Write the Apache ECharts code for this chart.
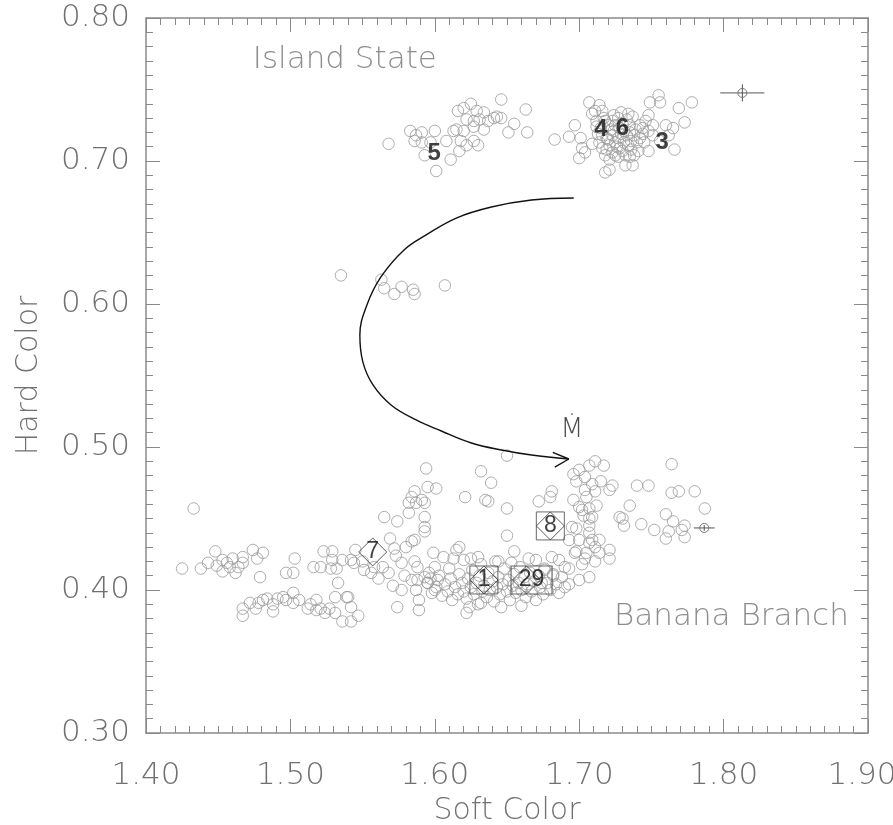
<!DOCTYPE html>
<html>
<head>
<meta charset="utf-8">
<script src="https://cdn.jsdelivr.net/npm/echarts@6/dist/echarts.min.js"></script>
<style>html,body{margin:0;padding:0;background:#fff;overflow:hidden}#c{width:893px;height:825px}</style>
</head>
<body>
<div id="c"></div>
<script>
// ---------------- DATA ----------------
const xTicks = [1.40, 1.50, 1.60, 1.70, 1.80, 1.90];
const yTicks = [0.30, 0.40, 0.50, 0.60, 0.70, 0.80];

const islandLeft = [[1.568,0.712],[1.583,0.721],[1.587,0.718],[1.591,0.720],[1.591,0.713],[1.600,0.721],[1.597,0.713],[1.593,0.704],[1.601,0.693],[1.611,0.701],[1.608,0.714],[1.613,0.721],[1.615,0.722],[1.618,0.714],[1.617,0.707],[1.622,0.711],[1.627,0.714],[1.630,0.711],[1.620,0.721],[1.627,0.724],[1.634,0.722],[1.616,0.735],[1.620,0.737],[1.625,0.740],[1.629,0.735],[1.622,0.729],[1.627,0.728],[1.631,0.729],[1.634,0.734],[1.637,0.728],[1.641,0.730],[1.643,0.731],[1.646,0.730],[1.646,0.743],[1.655,0.726],[1.651,0.720],[1.663,0.736],[1.664,0.720],[1.586,0.714]];

const islandRight = [[1.683,0.715],[1.693,0.717],[1.697,0.725],[1.701,0.716],[1.702,0.709],[1.700,0.702],[1.704,0.706],[1.707,0.741],[1.709,0.733],[1.714,0.739],[1.716,0.735],[1.712,0.728],[1.715,0.723],[1.716,0.709],[1.718,0.704],[1.721,0.701],[1.721,0.694],[1.718,0.692],[1.723,0.718],[1.725,0.725],[1.727,0.730],[1.729,0.734],[1.733,0.729],[1.735,0.725],[1.737,0.731],[1.725,0.713],[1.728,0.709],[1.732,0.704],[1.734,0.711],[1.735,0.703],[1.738,0.704],[1.742,0.716],[1.744,0.723],[1.746,0.728],[1.748,0.732],[1.749,0.741],[1.755,0.746],[1.756,0.741],[1.748,0.707],[1.748,0.721],[1.751,0.718],[1.760,0.725],[1.765,0.723],[1.769,0.737],[1.778,0.741],[1.773,0.727],[1.766,0.708],[1.762,0.718],[1.723,0.728],[1.731,0.721],[1.738,0.718],[1.725,0.704],[1.721,0.711],[1.732,0.697],[1.737,0.697],[1.741,0.707],[1.751,0.725],[1.756,0.714],[1.711,0.735],[1.718,0.728],[1.713,0.719],[1.727,0.716],[1.740,0.713],[1.730,0.726],[1.722,0.722],[1.744,0.719],[1.709,0.712],[1.719,0.716],
  [1.712,0.724],[1.716,0.718],[1.720,0.725],[1.724,0.721],[1.726,0.710],[1.729,0.719],[1.731,0.713],[1.733,0.718],[1.736,0.714],[1.739,0.722],[1.719,0.708],[1.723,0.706],[1.727,0.703],[1.730,0.707],[1.714,0.713],[1.735,0.720],[1.742,0.725],[1.745,0.713],[1.717,0.730],[1.724,0.732],[1.734,0.733],[1.728,0.723],[1.720,0.715],[1.736,0.708]];

const middlePoints = [[1.535,0.620],[1.563,0.617],[1.565,0.611],[1.572,0.607],[1.577,0.612],[1.585,0.610],[1.586,0.607],[1.607,0.613]];

const bananaLeft = [[1.433,0.457],[1.425,0.415],[1.438,0.415],[1.443,0.419],[1.448,0.427],[1.449,0.417],[1.453,0.421],[1.453,0.413],[1.456,0.419],[1.458,0.416],[1.460,0.422],[1.462,0.412],[1.464,0.416],[1.467,0.419],[1.467,0.423],[1.474,0.428],[1.477,0.422],[1.481,0.426],[1.479,0.409],[1.497,0.412],[1.502,0.412],[1.503,0.422],[1.516,0.416],[1.521,0.416],[1.523,0.427],[1.529,0.427],[1.529,0.421],[1.528,0.415],[1.532,0.415],[1.536,0.421],[1.533,0.405],[1.540,0.395],[1.542,0.421],[1.545,0.428],[1.544,0.419],[1.550,0.420],[1.551,0.414],[1.556,0.412],[1.558,0.416],[1.561,0.408],[1.564,0.416],[1.568,0.412]];

const bananaLow = [[1.467,0.387],[1.467,0.382],[1.472,0.391],[1.476,0.387],[1.478,0.391],[1.481,0.393],[1.484,0.394],[1.488,0.390],[1.488,0.385],[1.491,0.394],[1.495,0.395],[1.497,0.393],[1.502,0.398],[1.502,0.391],[1.506,0.393],[1.512,0.387],[1.514,0.390],[1.518,0.393],[1.518,0.386],[1.521,0.387],[1.524,0.384],[1.527,0.387],[1.531,0.395],[1.531,0.384],[1.536,0.378],[1.539,0.395],[1.542,0.388],[1.542,0.378],[1.547,0.382]];

const bananaMid = [[1.565,0.451],[1.574,0.448],[1.569,0.436],[1.572,0.429],[1.573,0.424],[1.571,0.403],[1.574,0.388],[1.577,0.400],[1.579,0.410],[1.580,0.430],[1.584,0.434],[1.586,0.435],[1.582,0.454],[1.582,0.461],[1.584,0.465],[1.587,0.461],[1.591,0.463],[1.593,0.451],[1.593,0.444],[1.593,0.441],[1.586,0.469],[1.599,0.426],[1.577,0.419],[1.586,0.420],[1.588,0.416],[1.584,0.407],[1.588,0.407],[1.587,0.400],[1.589,0.393],[1.589,0.386],[1.593,0.409],[1.595,0.405],[1.597,0.408],[1.600,0.400],[1.602,0.407],[1.594,0.485],[1.632,0.483],[1.650,0.494],[1.639,0.475],[1.621,0.465],[1.635,0.463],[1.637,0.462],[1.650,0.457],[1.650,0.438],[1.672,0.462],[1.680,0.465],[1.681,0.469],[1.601,0.471],[1.595,0.472],[1.593,0.461],[1.617,0.430],[1.615,0.428],[1.606,0.423],[1.613,0.422],[1.620,0.421],[1.625,0.422],[1.630,0.423],[1.644,0.420],[1.655,0.427],[1.665,0.422],[1.670,0.421],[1.681,0.423],[1.686,0.421],[1.690,0.416],[1.693,0.404],[1.682,0.410],[1.676,0.414],[1.674,0.405]];

const bananaDense = [[1.595,0.405],[1.598,0.398],[1.601,0.402],[1.603,0.410],[1.605,0.396],[1.607,0.404],[1.609,0.399],[1.611,0.408],[1.612,0.393],[1.614,0.402],[1.616,0.397],[1.617,0.411],[1.619,0.405],[1.620,0.399],[1.622,0.394],[1.623,0.408],[1.625,0.402],[1.626,0.414],[1.627,0.397],[1.629,0.405],[1.630,0.390],[1.631,0.410],[1.633,0.399],[1.634,0.403],[1.636,0.395],[1.637,0.412],[1.638,0.400],[1.640,0.406],[1.641,0.392],[1.643,0.402],[1.644,0.409],[1.645,0.397],[1.647,0.404],[1.648,0.415],[1.650,0.399],[1.651,0.407],[1.652,0.393],[1.654,0.403],[1.655,0.411],[1.656,0.398],[1.658,0.405],[1.659,0.416],[1.660,0.400],[1.662,0.409],[1.663,0.395],[1.664,0.404],[1.666,0.412],[1.667,0.399],[1.669,0.406],[1.670,0.393],[1.672,0.410],[1.673,0.402],[1.675,0.397],[1.676,0.415],[1.678,0.405],[1.680,0.400],[1.682,0.411],[1.684,0.404],[1.686,0.398],[1.688,0.409],[1.690,0.402],[1.624,0.388],[1.646,0.388],[1.660,0.389],[1.610,0.415],[1.632,0.418],[1.642,0.420],[1.653,0.419],[1.600,0.416],[1.596,0.412],[1.632,0.391],[1.622,0.384]];

const bananaRight = [[1.696,0.481],[1.700,0.484],[1.707,0.487],[1.711,0.490],[1.717,0.487],[1.698,0.476],[1.704,0.479],[1.709,0.474],[1.715,0.476],[1.704,0.470],[1.711,0.469],[1.721,0.470],[1.723,0.473],[1.700,0.458],[1.707,0.457],[1.703,0.452],[1.707,0.450],[1.698,0.443],[1.707,0.445],[1.707,0.440],[1.709,0.435],[1.700,0.435],[1.693,0.435],[1.714,0.435],[1.698,0.427],[1.705,0.426],[1.711,0.430],[1.721,0.428],[1.721,0.422],[1.702,0.418],[1.693,0.415],[1.700,0.407],[1.707,0.409],[1.730,0.450],[1.740,0.473],[1.748,0.473],[1.764,0.488],[1.764,0.468],[1.769,0.469],[1.780,0.469],[1.787,0.457],[1.735,0.459],[1.728,0.451],[1.731,0.445],[1.743,0.446],[1.752,0.442],[1.760,0.453],[1.765,0.448],[1.762,0.441],[1.760,0.436],[1.773,0.445],[1.771,0.442],[1.773,0.437],[1.714,0.426],[1.697,0.426],[1.704,0.422],[1.711,0.420],[1.707,0.433],[1.695,0.444],[1.709,0.451],[1.702,0.456],[1.712,0.459],[1.696,0.463],[1.705,0.465]];

// labelled states
const boxedMarkers = [
  {name:'7',  x:1.557, y:0.4266, box:false},
  {name:'1',  x:1.634, y:0.4070, box:true},
  {name:'29', x:1.667, y:0.4070, box:true, wide:true},
  {name:'8',  x:1.680, y:0.4448, box:true}
];
const plainNumbers = [['5',1.5996,0.7056],['4',1.715,0.7224],['6',1.730,0.7231],['3',1.7574,0.7133]];

// the curved arrow (annotation path, data units)
const arcPath = [[1.6962,0.6741],[1.6670,0.6727],[1.6392,0.6678],[1.6149,0.6601],[1.5940,0.6483],[1.5787,0.6378],[1.5627,0.6189],[1.5530,0.5993],[1.5481,0.5783],[1.5502,0.5594],[1.5572,0.5434],[1.5697,0.5294],[1.5871,0.5189],[1.6045,0.5112],[1.6253,0.5028],[1.6462,0.4979],[1.6670,0.4944],[1.6928,0.4916]];
const arrowHead = [[1.6817,0.4963],[1.6928,0.4916],[1.6831,0.4860]];

// error bars: [x, y, xerr, yerr]
const errorBars = [[1.813,0.7476,0.0153,0.006],[1.7866,0.4434,0.0072,0.002]];

// text annotations [text, x, y]
const annotations = [['Island State',1.5377,0.7706],['Banana Branch',1.8054,0.3811],['\u1E40',1.6949,0.5120]];

// ---------------- CHART ----------------
const FONT = 'DejaVu Sans';
const TXT = '#707070';
const AX = '#8a8a8a';
const allPoints = [].concat(islandLeft, islandRight, middlePoints, bananaLeft, bananaLow, bananaMid, bananaDense, bananaRight);
const xMax = xTicks[xTicks.length-1];

function axisBase(show){
  return {
    type:'value', interval:0.1,
    axisLine:{show:true, onZero:false, lineStyle:{color:AX, width:1.5}},
    axisTick:{show:true, inside:true, length:14, lineStyle:{color:AX, width:1}},
    minorTick:{show:true, splitNumber:10, length:7, lineStyle:{color:AX, width:1}},
    splitLine:{show:false}, minorSplitLine:{show:false},
    axisLabel:{show:show, formatter:v=>v.toFixed(2), fontSize:31, color:TXT, fontFamily:FONT, fontWeight:200, hideOverlap:false},
    nameTextStyle:{fontSize:30, color:TXT, fontFamily:FONT, fontWeight:200}
  };
}
const xb = Object.assign(axisBase(true), {min:xTicks[0], max:xMax, position:'bottom', name:'Soft Color', nameLocation:'middle', nameGap:62});
xb.axisLabel.margin = 27;
xb.axisLabel.showMaxLabel = true;
xb.axisLabel.formatter = v => Math.abs(v - xMax) < 1e-9 ? '{m|' + v.toFixed(2) + '}' : v.toFixed(2);
xb.axisLabel.rich = {m:{fontSize:31, color:TXT, fontFamily:FONT, fontWeight:200, padding:[0,12,0,0]}};
const xt = Object.assign(axisBase(false), {min:xTicks[0], max:xMax, position:'top'});
const yl = Object.assign(axisBase(true), {min:yTicks[0], max:yTicks[yTicks.length-1], position:'left', name:'Hard Color', nameLocation:'middle', nameGap:102});
yl.axisLabel.margin = 16;
const yr = Object.assign(axisBase(false), {min:yTicks[0], max:yTicks[yTicks.length-1], position:'right'});

const chart = echarts.init(document.getElementById('c'), null, {renderer:'canvas'});
chart.setOption({
  animation:false,
  backgroundColor:'#fff',
  grid:{left:146, right:25, top:18, bottom:92, containLabel:false, outerBoundsMode:'none'},
  xAxis:[xb, xt],
  yAxis:[yl, yr],
  series:[
    {type:'scatter', data:allPoints, symbol:'circle', symbolSize:11.5,
     itemStyle:{color:'rgba(0,0,0,0)', borderColor:'#9a9a9a', borderWidth:1}, z:2},
    {type:'line', data:arcPath, smooth:0.4, symbol:'none', lineStyle:{color:'#111', width:1.4}, z:3},
    {type:'line', data:arrowHead, symbol:'none', lineStyle:{color:'#111', width:1.4}, z:3},
    {type:'custom', data:errorBars, z:4,
     renderItem:function(params, api){
       const x=api.value(0), y=api.value(1), xe=api.value(2), ye=api.value(3);
       const c=api.coord([x,y]), l=api.coord([x-xe,y]), r=api.coord([x+xe,y]), t=api.coord([x,y+ye]), b=api.coord([x,y-ye]);
       const st={stroke:'#555', lineWidth:1, fill:null};
       return {type:'group', children:[
         {type:'line', shape:{x1:l[0],y1:l[1],x2:r[0],y2:r[1]}, style:st},
         {type:'line', shape:{x1:t[0],y1:t[1],x2:b[0],y2:b[1]}, style:st},
         {type:'circle', shape:{cx:c[0],cy:c[1],r:4.5}, style:{stroke:'#777', lineWidth:1, fill:'rgba(0,0,0,0)'}}
       ]};
     }},
    {type:'scatter', z:5, symbol:'rect',
     data:boxedMarkers.filter(m=>m.box).map(m=>({value:[m.x,m.y], symbolSize:m.wide?[41,28]:[28,28]})),
     itemStyle:{color:'rgba(0,0,0,0)', borderColor:'#444', borderWidth:1}},
    {type:'scatter', z:5, symbol:'diamond',
     data:boxedMarkers.map(m=>({value:[m.wide?m.x-0.0035:m.x, m.y], symbolSize:[28,28]})),
     itemStyle:{color:'rgba(0,0,0,0)', borderColor:'#333', borderWidth:1}},
    {type:'scatter', z:6, symbolSize:0,
     data:boxedMarkers.map(m=>({name:m.name, value:[m.x,m.y]})),
     label:{show:true, position:'inside', formatter:p=>p.name, fontSize:23, color:'#111', fontFamily:'Liberation Sans'}},
    {type:'scatter', z:6, symbolSize:0,
     data:plainNumbers.map(d=>({name:d[0], value:[d[1],d[2]]})),
     label:{show:true, position:'inside', formatter:p=>p.name, fontSize:24, color:'#111', fontWeight:'bold', fontFamily:'Liberation Sans'}},
    {type:'scatter', z:6, symbolSize:0,
     data:annotations.map((d,i)=>({name:d[0], value:[d[1],d[2]], label:{fontSize: i===2?27:31, color: i===2?'#222':TXT}})),
     label:{show:true, position:'inside', formatter:p=>p.name, fontFamily:FONT, fontWeight:200}}
  ]
});
</script>
</body>
</html>
